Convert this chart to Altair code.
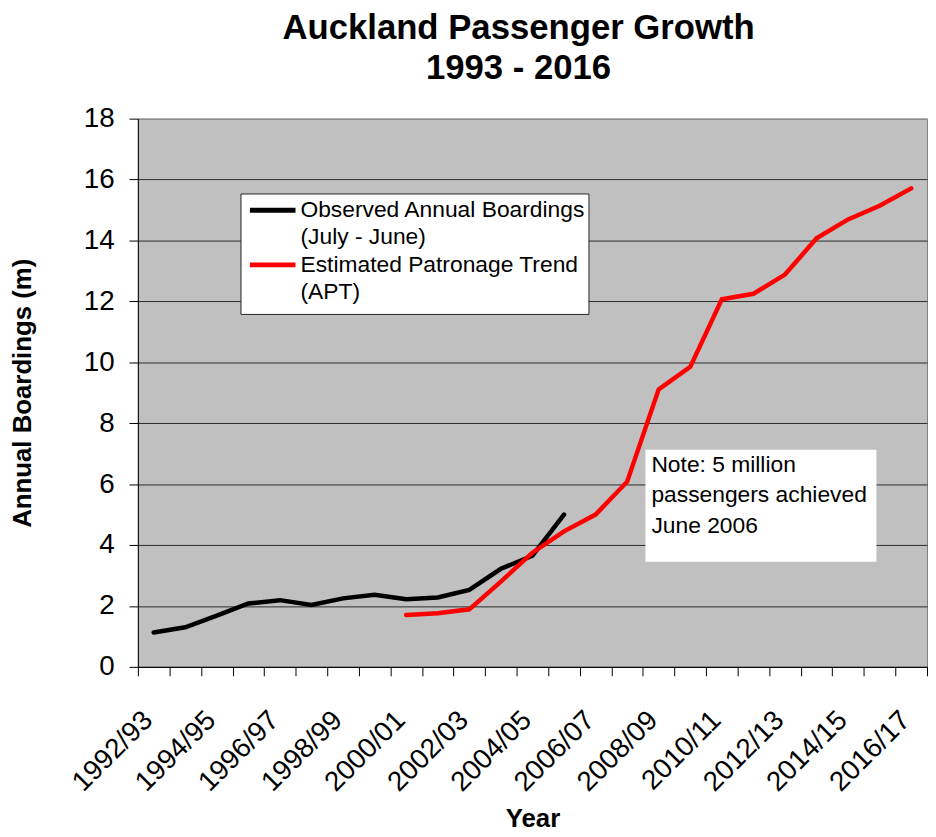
import altair as alt
import pandas as pd

# ---------------- data ----------------
categories = [
    "1992/93", "1993/94", "1994/95", "1995/96", "1996/97", "1997/98", "1998/99",
    "1999/00", "2000/01", "2001/02", "2002/03", "2003/04", "2004/05", "2005/06",
    "2006/07", "2007/08", "2008/09", "2009/10", "2010/11", "2011/12", "2012/13",
    "2013/14", "2014/15", "2015/16", "2016/17",
]
shown_labels = categories[::2]

observed_periods = categories[0:14]
observed_values = [1.13, 1.30, 1.68, 2.08, 2.19, 2.03, 2.25, 2.37, 2.22, 2.28,
                   2.53, 3.22, 3.65, 5.00]

trend_periods = categories[8:25]
trend_values = [1.70, 1.76, 1.89, 2.80, 3.75, 4.45, 5.00, 6.08, 9.11, 9.85,
                12.07, 12.25, 12.88, 14.07, 14.69, 15.14, 15.71]

y_ticks = [0, 2, 4, 6, 8, 10, 12, 14, 16, 18]

title_lines = ["Auckland Passenger Growth", "1993 - 2016"]
legend_observed = ["Observed Annual Boardings", "(July - June)"]
legend_trend = ["Estimated Patronage Trend", "(APT)"]
note_lines = ["Note: 5 million", "passengers achieved", "June 2006"]

FONT = "Liberation Sans"
W, H = 796, 553

obs_df = pd.DataFrame({"Year": observed_periods, "Boardings": observed_values})
trend_df = pd.DataFrame({"Year": trend_periods, "Boardings": trend_values})

label_list = "[" + ",".join("'" + s + "'" for s in shown_labels) + "]"

x_enc = alt.X(
    "Year:N",
    sort=categories,
    scale=alt.Scale(type="band", domain=categories, paddingInner=0, paddingOuter=0),
    axis=alt.Axis(
        title="Year",
        titleFont=FONT, titleFontSize=26, titleFontWeight="bold", titleColor="black",
        titleX=W / 2, titleY=161, titleAlign="center", titleBaseline="alphabetic",
        labelFont=FONT, labelFontSize=28, labelColor="black",
        labelAngle=315, labelAlign="right", labelBaseline="alphabetic",
        labelPadding=46, labelOverlap=False,
        labelExpr="indexof(" + label_list + ", datum.value) >= 0 ? datum.label : ''",
        tickBand="extent", tickSize=9, tickColor="black", tickWidth=1,
        domainColor="black", domainWidth=1, grid=False,
    ),
)
y_enc = alt.Y(
    "Boardings:Q",
    scale=alt.Scale(domain=[0, 18], nice=False, zero=True),
    axis=alt.Axis(
        values=y_ticks,
        title="Annual Boardings (m)",
        titleFont=FONT, titleFontSize=26, titleFontWeight="bold", titleColor="black",
        titleAngle=270, titleX=-116, titleY=H / 2, titleAlign="center", titleBaseline="middle",
        labelFont=FONT, labelFontSize=28, labelColor="black", labelPadding=15,
        labelOverlap=False, labelBaseline="middle",
        tickSize=9, tickColor="black", tickWidth=1,
        domainColor="black", domainWidth=1,
        grid=True,
        gridColor={"condition": {"test": "datum.value == 18", "value": "#808080"}, "value": "#2a2a2a"},
        gridWidth=1,
    ),
)

observed = alt.Chart(obs_df).mark_line(color="black", strokeWidth=4.5, strokeCap="round").encode(
    x=x_enc, y=y_enc
)
trend = alt.Chart(trend_df).mark_line(color="#FF0000", strokeWidth=4.5, strokeCap="round").encode(
    x=x_enc, y=y_enc
)

one = pd.DataFrame({"k": [0]})

# legend box (drawn manually to allow two-line labels)
legend_box = alt.Chart(one).mark_rect(fill="white", stroke="#222222", strokeWidth=1).encode(
    x=alt.value(104), x2=alt.value(455), y=alt.value(76), y2=alt.value(197.5)
)
legend_sym_obs = alt.Chart(one).mark_rule(color="black", strokeWidth=5).encode(
    x=alt.value(113), x2=alt.value(159), y=alt.value(92.5)
)
legend_sym_trend = alt.Chart(one).mark_rule(color="#FF0000", strokeWidth=5).encode(
    x=alt.value(113), x2=alt.value(159), y=alt.value(147.5)
)
legend_txt_obs = alt.Chart(one).mark_text(
    font=FONT, fontSize=23, color="black", align="left", baseline="alphabetic", lineHeight=27.7
).encode(x=alt.value(164), y=alt.value(99.2), text=alt.value(legend_observed))
legend_txt_trend = alt.Chart(one).mark_text(
    font=FONT, fontSize=23, color="black", align="left", baseline="alphabetic", lineHeight=27.7
).encode(x=alt.value(164), y=alt.value(154.2), text=alt.value(legend_trend))

# note box
note_box = alt.Chart(one).mark_rect(fill="white").encode(
    x=alt.value(512), x2=alt.value(745), y=alt.value(334), y2=alt.value(447)
)
note_txt = alt.Chart(one).mark_text(
    font=FONT, fontSize=23, color="black", align="left", baseline="alphabetic", lineHeight=30.5
).encode(x=alt.value(518), y=alt.value(356.5), text=alt.value(note_lines))

chart = alt.layer(
    observed, trend,
    legend_box, legend_sym_obs, legend_sym_trend, legend_txt_obs, legend_txt_trend,
    note_box, note_txt,
).properties(
    width=W,
    height=H,
    background="white",
    autosize=alt.AutoSizeParams(type="none"),
    padding={"left": 131, "top": 108, "right": 1, "bottom": 166},
    title=alt.TitleParams(
        text=title_lines, font=FONT, fontSize=35, fontWeight="bold", color="black",
        anchor="middle", frame="group", dx=-14, dy=46.5, lineHeight=41,
        baseline="alphabetic", offset=37,
    ),
).configure_view(
    fill="#C0C0C0", stroke="#808080", strokeWidth=1
)

chart.save("out.html", embed_options={"renderer": "svg", "actions": False})
